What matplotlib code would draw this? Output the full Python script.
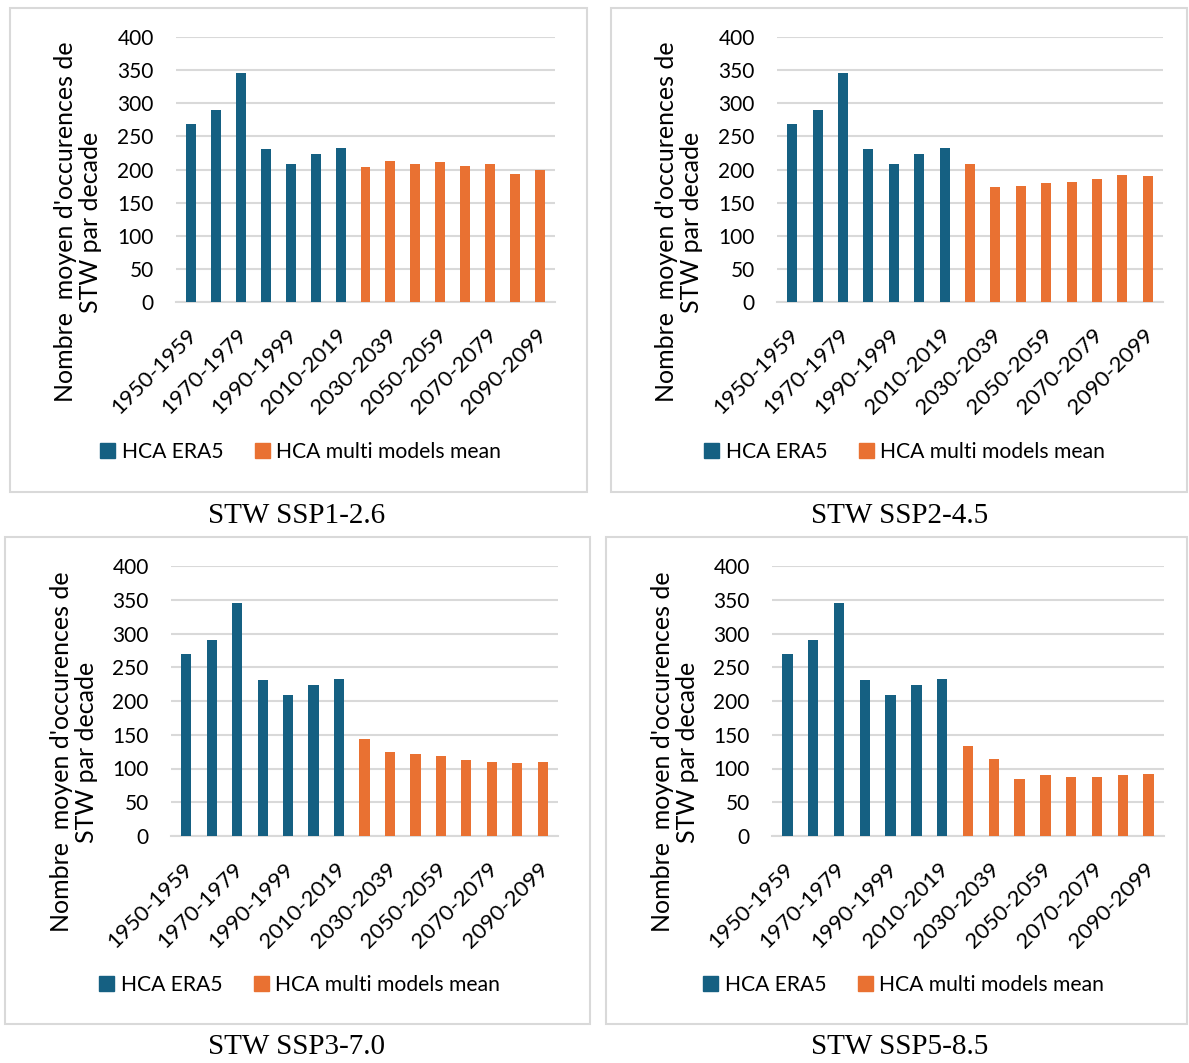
import matplotlib
matplotlib.use("Agg")
import matplotlib.pyplot as plt
from matplotlib.patches import Rectangle, Patch
import matplotlib.transforms as mtransforms

# --------------------------------------------------
#  Data
# --------------------------------------------------
decades = ["1950-1959", "1960-1969", "1970-1979", "1980-1989", "1990-1999",
           "2000-2009", "2010-2019", "2020-2029", "2030-2039", "2040-2049",
           "2050-2059", "2060-2069", "2070-2079", "2080-2089", "2090-2099"]
era5 = [269, 290, 345, 231, 209, 223, 232]
ssp126 = [204, 213, 208, 211, 206, 208, 193, 200]
ssp245 = [208, 174, 175, 180, 181, 185, 191, 190]
ssp370 = [144, 125, 122, 118, 113, 109, 108, 110]
ssp585 = [134, 114, 85, 91, 88, 88, 91, 92]
captions = ["STW SSP1-2.6", "STW SSP2-4.5", "STW SSP3-7.0", "STW SSP5-8.5"]
scenarios = [ssp126, ssp245, ssp370, ssp585]

BLUE = "#156082"
ORANGE = "#E97132"
GRID = "#D9D9D9"
W, H = 1189, 1063

plt.rcParams["font.family"] = ["Lato", "DejaVu Sans"]

fig = plt.figure(figsize=(W / 100, H / 100), dpi=100)

# pixel layout (left, top, right, bottom) : box, axes, caption, legend, y-label centre
panels = [
    dict(box=(10, 8, 587, 492), ax=(176, 37, 555, 302), cap=(297, 516), leg=(100, 452), lab=(78, 222)),
    dict(box=(611, 8, 1187, 492), ax=(777, 37, 1163, 302), cap=(900, 516), leg=(704, 452), lab=(679, 222)),
    dict(box=(5, 537, 590, 1024), ax=(171, 566, 558, 836), cap=(297, 1047), leg=(99, 985), lab=(74, 752)),
    dict(box=(606, 537, 1187, 1024), ax=(772, 566, 1164, 836), cap=(900, 1047), leg=(703, 985), lab=(675, 752)),
]

def fx(px):
    return px / W

def fy(py):
    return 1 - py / H

for p, vals, cap in zip(panels, scenarios, captions):
    l, t, r, b = p["box"]
    fig.patches.append(Rectangle((fx(l), fy(b)), fx(r - l), (b - t) / H,
                                 transform=fig.transFigure, fill=False,
                                 edgecolor=GRID, lw=1.5, zorder=0))
    l, t, r, b = p["ax"]
    ax = fig.add_axes([fx(l), fy(b), fx(r - l), (b - t) / H])
    x = list(range(len(decades)))
    ax.bar(x[:len(era5)], era5, width=0.4, color=BLUE, zorder=3)
    ax.bar(x[len(era5):], vals, width=0.4, color=ORANGE, zorder=3)
    ax.set_xlim(-0.6, len(decades) - 0.4)
    ax.set_ylim(0, 400)
    ax.set_yticks(range(0, 401, 50))
    ax.yaxis.grid(True, color=GRID, lw=1.5, zorder=0)
    ax.set_axisbelow(True)
    for s in ["top", "right", "left"]:
        ax.spines[s].set_visible(False)
    ax.spines["bottom"].set_color(GRID)
    ax.spines["bottom"].set_linewidth(1.5)
    ax.tick_params(axis="both", length=0, labelsize=15, colors="black")
    ax.tick_params(axis="y", pad=16)
    ax.set_xticks(x[::2])
    ax.set_xticklabels(decades[::2], rotation=45, ha="right",
                       rotation_mode="anchor", va="center", fontsize=16)
    offset = mtransforms.ScaledTranslation(0.03, -0.25, fig.dpi_scale_trans)
    for lbl in ax.get_xticklabels():
        lbl.set_transform(lbl.get_transform() + offset)

    fig.text(fx(p["lab"][0]), fy(p["lab"][1]),
             "Nombre  moyen d'occurences de\nSTW par decade",
             rotation=90, ha="center", va="center", multialignment="center",
             fontsize=18, linespacing=1.15)

    handles = [Patch(color=BLUE, label="HCA ERA5"),
               Patch(color=ORANGE, label="HCA multi models mean")]
    fig.legend(handles=handles, loc="center left", ncol=2, frameon=False,
               bbox_to_anchor=(fx(p["leg"][0] - 8), fy(p["leg"][1])),
               fontsize=15.2, handlelength=0.7, handleheight=0.7,
               handletextpad=0.3, columnspacing=1.5, borderaxespad=0)

    fig.text(fx(p["cap"][0]), fy(p["cap"][1]), cap, ha="center", va="center",
             family="Liberation Serif", fontsize=21)

fig.savefig("out.png", dpi=100)
